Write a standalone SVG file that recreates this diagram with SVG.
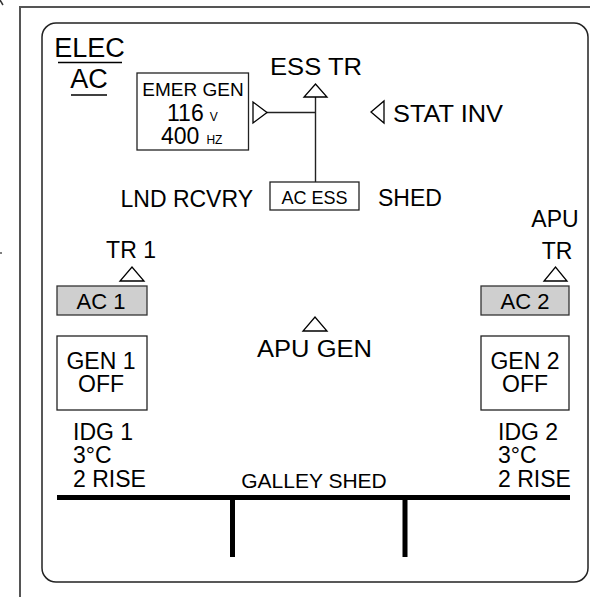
<svg xmlns="http://www.w3.org/2000/svg" width="590" height="597" viewBox="0 0 590 597">
<style>
text{font-family:"Liberation Sans",Arial,sans-serif;fill:#000}
.big{font-size:23px}
.mid{font-size:18px}
.sm{font-size:12px}
.m{text-anchor:middle}
.e{text-anchor:end}
.box{fill:#fff;stroke:#222;stroke-width:1.3}
.gbox{fill:#cfcfcf;stroke:#333;stroke-width:1.3}
.tri{fill:#fff;stroke:#000;stroke-width:1.3}
.ln{stroke:#222;stroke-width:1.4;fill:none}
.bus{stroke:#000;stroke-width:5;fill:none}
</style>
<rect width="590" height="597" fill="#fff"/>
<g id="frame">
<path d="M20,597 V7 H590" fill="none" stroke="#555" stroke-width="2"/>
<path d="M0,0 L3,5" stroke="#333" stroke-width="1.5"/>
<path d="M0,253 H2" stroke="#555" stroke-width="1.5"/>
<rect x="42" y="23" width="546" height="559" rx="14" ry="14" fill="none" stroke="#222" stroke-width="1.5"/>
</g>
<g id="title">
<text x="89.5" y="57" class="m" font-size="27">ELEC</text>
<line x1="58" y1="62.5" x2="122" y2="62.5" stroke="#000" stroke-width="1.5"/>
<text x="89" y="88" class="m" font-size="27">AC</text>
<line x1="71" y1="95" x2="107" y2="95" stroke="#000" stroke-width="1.5"/>
</g>
<g id="connectors">
<line class="ln" x1="267" y1="112.5" x2="315.5" y2="112.5"/>
<line class="ln" x1="315.5" y1="97" x2="315.5" y2="182"/>
</g>
<g id="emer-gen">
<rect class="box" x="137" y="73" width="111.5" height="77"/>
<text x="193" y="96" class="m" font-size="19">EMER GEN</text>
<text x="167" y="121" class="big">116<tspan class="sm" dx="6">V</tspan></text>
<text x="161" y="144" class="big">400<tspan class="sm" dx="7">HZ</tspan></text>
<polygon class="tri" points="253,102 253,123 267,112.5"/>
</g>
<g id="ess-tr">
<text x="270" y="75" class="big" textLength="92" lengthAdjust="spacingAndGlyphs">ESS TR</text>
<polygon class="tri" points="304,97 327,97 315.5,84"/>
</g>
<g id="stat-inv">
<polygon class="tri" points="384,101 384,123 371,112"/>
<text x="393" y="122" class="big" textLength="110" lengthAdjust="spacingAndGlyphs">STAT INV</text>
</g>
<g id="ac-ess">
<text x="253" y="207" class="e big">LND RCVRY</text>
<rect class="box" x="270" y="182" width="89" height="28"/>
<text x="314.5" y="203.5" class="m mid">AC ESS</text>
<text x="378" y="206" class="big">SHED</text>
</g>
<g id="tr1">
<text x="131" y="258" class="m big">TR 1</text>
<polygon class="tri" points="120,281 144,281 132,267"/>
</g>
<g id="ac1">
<rect class="gbox" x="57" y="286" width="90" height="29"/>
<text x="101" y="309" class="m" font-size="22">AC 1</text>
</g>
<g id="gen1">
<rect class="box" x="57" y="336" width="90" height="74"/>
<text x="101" y="369" class="m big">GEN 1</text>
<text x="101" y="392" class="m big">OFF</text>
</g>
<g id="apu-gen">
<polygon class="tri" points="303,331 327,331 315,317"/>
<text x="257" y="357" class="big" textLength="115" lengthAdjust="spacingAndGlyphs">APU GEN</text>
</g>
<g id="apu-tr">
<text x="555" y="227" class="m big">APU</text>
<text x="557" y="259" class="m big">TR</text>
<polygon class="tri" points="544,281 567,281 555.5,267"/>
</g>
<g id="ac2">
<rect class="gbox" x="481" y="286" width="88" height="29"/>
<text x="525" y="309" class="m" font-size="22">AC 2</text>
</g>
<g id="gen2">
<rect class="box" x="481" y="336" width="88" height="74"/>
<text x="525" y="369" class="m big">GEN 2</text>
<text x="525" y="392" class="m big">OFF</text>
</g>
<g id="idg1">
<text x="73" y="440" class="big">IDG 1</text>
<text x="73" y="463" class="big">3°C</text>
<text x="73" y="487" class="big">2 RISE</text>
</g>
<g id="idg2">
<text x="498" y="440" class="big">IDG 2</text>
<text x="498" y="463" class="big">3°C</text>
<text x="498" y="487" class="big">2 RISE</text>
</g>
<g id="galley">
<text x="314" y="488" class="m" font-size="21">GALLEY SHED</text>
<path class="bus" d="M57,497.5 H570 M232.5,497.5 V557 M405,497.5 V557"/>
</g>
</svg>
